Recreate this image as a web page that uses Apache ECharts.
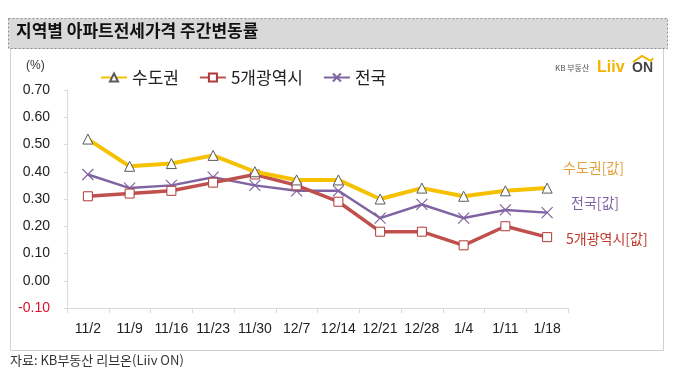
<!DOCTYPE html>
<html><head><meta charset="utf-8">
<script src="https://cdn.jsdelivr.net/npm/echarts@6/dist/echarts.min.js"></script>
<style>html,body{margin:0;padding:0;background:#fff}#c{width:680px;height:384px}</style>
</head><body><div id="c"></div>
<script>
var categories = ['11/2','11/9','11/16','11/23','11/30','12/7','12/14','12/21','12/28','1/4','1/11','1/18'];
var sudogwon = [0.52,0.42,0.43,0.46,0.40,0.37,0.37,0.30,0.34,0.31,0.33,0.34];
var metro5 = [0.31,0.32,0.33,0.36,0.39,0.35,0.29,0.18,0.18,0.13,0.20,0.16];
var national = [0.39,0.34,0.35,0.38,0.35,0.33,0.33,0.23,0.28,0.23,0.26,0.25];
var seriesNames = ['수도권','5개광역시','전국'];
var yMin = -0.1, yMax = 0.7, yStep = 0.1;

var FONT = 'Arial, "Liberation Sans", "Noto Sans CJK KR", sans-serif';
var KFONT = '"Noto Sans CJK KR", sans-serif';
var chart = echarts.init(document.getElementById('c'), null, {renderer:'canvas'});
var xMark = 'path://M0,0L10,10M10,0L0,10';
chart.setOption({
  animation:false,
  backgroundColor:'#fff',
  graphic:[
    {type:'rect', shape:{x:10.5,y:48.5,width:653,height:302}, style:{fill:'#fff',stroke:'#d0d0d0',lineWidth:1}, z:-10},
    {type:'rect', shape:{x:8.5,y:18.5,width:659,height:30}, style:{fill:'#d9d9d9',stroke:'#8c8c8c',lineWidth:1,lineDash:[2,2]}, z:-9},
    {type:'text', left:16, top:22, style:{text:'지역별 아파트전세가격 주간변동률', font:'bold 17px '+KFONT, fill:'#111'}},
    {type:'text', left:10, top:354, style:{text:'자료: KB부동산 리브온(Liiv ON)', font:'13px '+KFONT, fill:'#333'}},
    {type:'text', left:26, top:60, style:{text:'(%)', font:'12px '+FONT, fill:'#333'}},
    {type:'text', left:555, top:64, style:{text:'KB 부동산', font:'8px '+KFONT, fill:'#555'}},
    {type:'text', left:597, top:60, style:{text:'Liiv', font:'bold 16px '+FONT, fill:'#f0b400'}},
    {type:'text', left:632, top:61, style:{text:'ON', font:'bold 14px '+FONT, fill:'#444'}},
    {type:'polyline', shape:{points:[[633,62],[642,56],[651,61],[653,58]]}, style:{stroke:'#f0b400',lineWidth:2,fill:null}},
    {type:'text', left:563, top:161, style:{text:'수도권[값]', font:'14px '+KFONT, fill:'#e3a03a'}},
    {type:'text', left:571, top:196, style:{text:'전국[값]', font:'14px '+KFONT, fill:'#8064a2'}},
    {type:'text', left:566, top:232, style:{text:'5개광역시[값]', font:'14px '+KFONT, fill:'#c0392b'}}
  ],
  legend:{
    data:seriesNames, left:95, top:64, itemWidth:26, itemHeight:10, itemGap:20,
    textStyle:{fontFamily:KFONT, fontSize:17, color:'#222'}
  },
  grid:{left:67, right:112, top:90, bottom:76},
  xAxis:[
    {type:'category', data:categories, position:'bottom',
     axisLine:{show:false}, axisTick:{show:false},
     axisLabel:{interval:0, margin:14, fontFamily:FONT, fontSize:14, color:'#222'}},
    {type:'category', data:categories, position:'bottom', gridIndex:0,
     axisLine:{show:true, onZero:true, lineStyle:{color:'#d9d9d9', width:1}},
     axisTick:{show:true, length:5, lineStyle:{color:'#d9d9d9'}},
     axisLabel:{show:false}}
  ],
  yAxis:{type:'value', min:yMin, max:yMax, interval:yStep,
    axisLine:{show:true, lineStyle:{color:'#d9d9d9'}},
    axisTick:{show:true, length:3, lineStyle:{color:'#d9d9d9'}},
    splitLine:{show:false},
    axisLabel:{margin:17, fontFamily:FONT, fontSize:14,
      formatter:function(v){return v.toFixed(2);},
      color:function(v){return Number(v) < 0 ? '#e0102a' : '#222';}}
  },
  series:[
    {name:seriesNames[0], type:'line', data:sudogwon, xAxisIndex:0, symbol:'triangle', symbolSize:10,
     lineStyle:{color:'#f5c100', width:4}, itemStyle:{color:'#fff', borderColor:'#5a5a5a', borderWidth:1}, z:3},
    {name:seriesNames[1], type:'line', data:metro5, xAxisIndex:0, symbol:'rect', symbolSize:9,
     lineStyle:{color:'#c0504d', width:3.5}, itemStyle:{color:'#fff', borderColor:'#b03a37', borderWidth:1}, z:2},
    {name:seriesNames[2], type:'line', data:national, xAxisIndex:0, symbol:xMark, symbolSize:11,
     lineStyle:{color:'#8064a2', width:2.5}, itemStyle:{color:'transparent', borderColor:'#8064a2', borderWidth:1.2}, z:1}
  ]
});
</script></body></html>
